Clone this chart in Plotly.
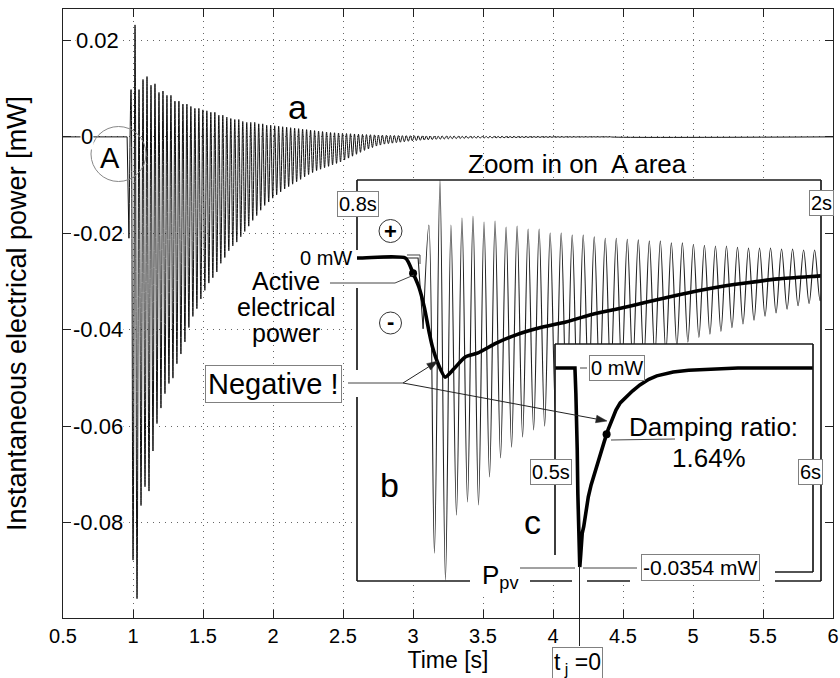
import math
import plotly.graph_objects as go

# ---------------- figure geometry (pixels) ----------------
W, H = 840, 678
ML, MR, MT, MB = 63, 7, 9, 60
PW, PH = W - ML - MR, H - MT - MB


def px(x):
    return (x - ML) / PW


def py(y):
    return (MT + PH - y) / PH


FONT = "Liberation Sans, Arial, Helvetica, sans-serif"

# ---------------- data ----------------
X_RANGE = [0.5, 6.0]
Y_RANGE = [-0.0997, 0.0265]
x_ticks = [0.5, 1.0, 1.5, 2.0, 2.5, 3.0, 3.5, 4.0, 4.5, 5.0, 5.5, 6.0]
x_tick_labels = ["0.5", "1", "1.5", "2", "2.5", "3", "3.5", "4", "4.5", "5", "5.5", "6"]
y_ticks = [0.02, 0.0, -0.02, -0.04, -0.06, -0.08]
y_tick_labels = ["0.02", "0", "-0.02", "-0.04", "-0.06", "-0.08"]

# oscillation: first peak time and period [s]
T0 = 0.986
PERIOD = 0.0285

# signal before the oscillation [s], [mW]
head_t = [0.5, 0.958, 0.971]
head_v = [0.0, 0.0, -0.021]

# successive maxima of the instantaneous power [mW]
upper_peaks = [
    0.0098, 0.0232, 0.0098, 0.0119, 0.0125, 0.0107, 0.0110, 0.0092, 0.0095, 0.0086,
    0.0086, 0.0074, 0.0074, 0.0068, 0.0068, 0.0063,
    0.0059, 0.0059, 0.0056, 0.0054, 0.0051, 0.0051, 0.0045, 0.0045, 0.0041, 0.0038,
    0.0036, 0.0036, 0.0032, 0.0030, 0.0030, 0.0030, 0.0027, 0.0027, 0.0024, 0.0024,
    0.0023, 0.0022, 0.0021, 0.0020, 0.0019, 0.0018, 0.0017, 0.0016, 0.0015, 0.0014,
    0.0013, 0.0012, 0.0011, 0.0010, 0.0009, 0.00085, 0.0008, 0.00075, 0.0007, 0.00065,
    0.0006, 0.00055, 0.0005, 0.00047, 0.00044,
    0.00041, 0.00038, 0.00035, 0.00033, 0.00031, 0.00029, 0.00027, 0.00025, 0.00024, 0.00023,
    0.00022, 0.00021, 0.0002, 0.00019, 0.00018, 0.00017, 0.00016, 0.00015, 0.00014, 0.00013,
    0.00013, 0.00012, 0.00012, 0.00012, 0.00011, 0.00011, 0.00011, 0.0001, 0.0001, 0.0001,
    0.00009, 0.00009, 0.00009, 0.00008, 0.00008, 0.00008, 0.00007, 0.00007, 0.00007, 0.00006,
    0.00006, 0.00006, 0.00005, 0.00005, 0.00005, 0.00005, 0.00004, 0.00004, 0.00004, 0.00004,
    0.00004, 0.00003, 0.00003, 0.00003, 0.00003, 0.00003, 0.00002, 0.00002, 0.00002, 0.00002,
]

# successive minima of the instantaneous power [mW]
lower_troughs = [
    -0.0877, -0.0957, -0.0764, -0.0725, -0.0734, -0.0651, -0.0594, -0.0562, -0.0532, -0.0511,
    -0.0500,
    -0.0470, -0.0450, -0.0425, -0.0395, -0.0372, -0.0356, -0.0336, -0.0318, -0.0303, -0.0292,
    -0.0280, -0.0262, -0.0250, -0.0236, -0.0226, -0.0218, -0.0207, -0.0196, -0.0185, -0.0173,
    -0.0163, -0.0152, -0.0142, -0.0135, -0.0127,
    -0.0120, -0.0114, -0.0108, -0.0103, -0.0098, -0.0093, -0.0088, -0.0083, -0.0078, -0.0074,
    -0.0070, -0.0067, -0.0064, -0.0061, -0.0058, -0.0055, -0.0052, -0.0048, -0.0044, -0.0040,
    -0.0036, -0.0032, -0.0028, -0.0025, -0.0022,
    -0.0019, -0.0017, -0.0015, -0.0014, -0.0013, -0.0012, -0.0011, -0.0010, -0.0009, -0.0008,
    -0.00075, -0.0007, -0.00065, -0.0006, -0.00055, -0.0005, -0.00047, -0.00044, -0.00041, -0.00038,
    -0.00036, -0.00034, -0.00032, -0.0003, -0.00028, -0.00026, -0.00025, -0.00024, -0.00023, -0.00022,
    -0.00021, -0.0002, -0.00019, -0.00018, -0.00017, -0.00016, -0.00015, -0.00014, -0.00013, -0.00012,
    -0.00011, -0.00011, -0.0001, -0.0001, -0.00009, -0.00009, -0.00008, -0.00008, -0.00007, -0.00007,
    -0.00006, -0.00006, -0.00005, -0.00005, -0.00005, -0.00004, -0.00004, -0.00004, -0.00003, -0.00003,
]

tail_t = [6.0]
tail_v = [0.0]

# active electrical power (mean power) [s], [mW]
power_t = [0.5, 0.8, 0.925, 0.945, 0.96, 0.974, 0.987, 0.995, 1.01, 1.028, 1.05, 1.08,
           1.113, 1.16, 1.21, 1.27, 1.34, 1.40, 1.47, 1.55, 1.63, 1.72, 1.80, 1.89, 2.0,
           2.15, 2.31, 2.5, 2.67, 2.85, 3.02, 3.35, 3.74, 4.4, 6.0]
power_v = [0.0, 0.0, 0.0, -0.0045, -0.0086, -0.0146, -0.0223, -0.0264, -0.0315, -0.0354,
           -0.0330, -0.0294, -0.0282, -0.0253, -0.0229, -0.0208, -0.0190, -0.0170, -0.0152,
           -0.0131, -0.0110, -0.0089, -0.0075, -0.0062, -0.0053, -0.0041, -0.0030, -0.0020,
           -0.0014, -0.0010, -0.0007, -0.0004, -0.0002, 0.0, 0.0]

active_dot = (0.945, -0.0045)
damping_dot = (1.60, -0.0118)

# inset ranges
B_X_RANGE = [0.8, 2.0]
B_Y_RANGE = [-0.0960, 0.0232]
C_X_RANGE = [0.5, 6.0]
C_Y_RANGE = [-0.03629, 0.00427]

# ---------------- build signal ----------------
n = min(len(upper_peaks), len(lower_troughs))
sig_t = [head_t[-1]]
sig_v = [head_v[-1]]
for k in range(n):
    sig_t += [T0 + k * PERIOD, T0 + (k + 0.5) * PERIOD]
    sig_v += [upper_peaks[k], lower_troughs[k]]
sig_t += tail_t
sig_v += tail_v

BLACK = "#111111"
fig = go.Figure()

# main chart
fig.add_trace(go.Scatter(x=head_t, y=head_v, mode="lines", line=dict(color=BLACK, width=1),
                         hoverinfo="skip", showlegend=False))
fig.add_trace(go.Scatter(x=sig_t, y=sig_v, mode="lines",
                         line=dict(color=BLACK, width=1, shape="spline", smoothing=1),
                         hoverinfo="skip", showlegend=False))

# inset b
fig.add_trace(go.Scatter(x=[B_X_RANGE[0], B_X_RANGE[1], B_X_RANGE[1], B_X_RANGE[0], B_X_RANGE[0]],
                         y=[B_Y_RANGE[0], B_Y_RANGE[0], B_Y_RANGE[1], B_Y_RANGE[1], B_Y_RANGE[0]],
                         mode="lines", fill="toself", fillcolor="white", line=dict(width=0),
                         xaxis="x2", yaxis="y2", hoverinfo="skip", showlegend=False))
fig.add_trace(go.Scatter(x=head_t, y=head_v, mode="lines", line=dict(color="#222222", width=1.1),
                         xaxis="x2", yaxis="y2", hoverinfo="skip", showlegend=False))
fig.add_trace(go.Scatter(x=sig_t, y=sig_v, mode="lines",
                         line=dict(color="#222222", width=1.1, shape="spline", smoothing=1),
                         xaxis="x2", yaxis="y2", hoverinfo="skip", showlegend=False))
fig.add_trace(go.Scatter(x=power_t, y=power_v, mode="lines",
                         line=dict(color="black", width=3.6, shape="spline", smoothing=0.6),
                         xaxis="x2", yaxis="y2", hoverinfo="skip", showlegend=False))
fig.add_trace(go.Scatter(x=[active_dot[0]], y=[active_dot[1]], mode="markers",
                         marker=dict(color="black", size=8), cliponaxis=False,
                         xaxis="x2", yaxis="y2", hoverinfo="skip", showlegend=False))

# inset c
fig.add_trace(go.Scatter(x=[C_X_RANGE[0], C_X_RANGE[1], C_X_RANGE[1], C_X_RANGE[0], C_X_RANGE[0]],
                         y=[C_Y_RANGE[0], C_Y_RANGE[0], C_Y_RANGE[1], C_Y_RANGE[1], C_Y_RANGE[0]],
                         mode="lines", fill="toself", fillcolor="white", line=dict(width=0),
                         xaxis="x3", yaxis="y3", hoverinfo="skip", showlegend=False))
fig.add_trace(go.Scatter(x=power_t, y=power_v, mode="lines",
                         line=dict(color="black", width=3.6),
                         xaxis="x3", yaxis="y3", hoverinfo="skip", showlegend=False))
fig.add_trace(go.Scatter(x=[damping_dot[0]], y=[damping_dot[1]], mode="markers",
                         marker=dict(color="black", size=8), cliponaxis=False,
                         xaxis="x3", yaxis="y3", hoverinfo="skip", showlegend=False))

# ---------------- decorations ----------------
shapes = []


def seg(x0, y0, x1, y1, w=1.0, c="#333333"):
    shapes.append(dict(type="line", xref="paper", yref="paper",
                       x0=px(x0), y0=py(y0), x1=px(x1), y1=py(y1),
                       line=dict(color=c, width=w)))


def path(points, w=1.0, c="#333333", fill=None, close=False):
    d = "M " + " L ".join(f"{px(x):.5f},{py(y):.5f}" for x, y in points)
    if close:
        d += " Z"
    s = dict(type="path", xref="paper", yref="paper", path=d, line=dict(color=c, width=w))
    if fill:
        s["fillcolor"] = fill
    shapes.append(s)


def circle(cx, cy, r, w=1.0, c="#333333"):
    shapes.append(dict(type="circle", xref="paper", yref="paper",
                       x0=px(cx - r), x1=px(cx + r), y0=py(cy + r), y1=py(cy - r),
                       line=dict(color=c, width=w)))


def arrow(tail, tip, head_len=11, head_half=3.8, c="#222222"):
    dx, dy = tip[0] - tail[0], tip[1] - tail[1]
    L = math.hypot(dx, dy)
    ux, uy = dx / L, dy / L
    bx, by = tip[0] - ux * head_len, tip[1] - uy * head_len
    seg(tail[0], tail[1], bx, by, 1, c)
    path([tip, (bx - uy * head_half, by + ux * head_half),
          (bx + uy * head_half, by - ux * head_half)], 0.5, c, fill=c, close=True)


FR = 1.7
FC = "#1a1a1a"
# inset b frame
seg(357, 180, 821, 180, FR, FC)
seg(357, 180, 357, 250, FR, FC)
seg(357, 288, 357, 370, FR, FC)
seg(357, 397, 357, 581, FR, FC)
seg(821, 180, 821, 581, FR, FC)
for a, b in [(357, 470), (530, 572), (587, 630), (775, 821)]:
    seg(a, 581, b, 581, FR, FC)
# inset c frame
seg(555, 344, 813, 344, FR, FC)
seg(555, 344, 555, 555, FR, FC)
seg(813, 344, 813, 572, FR, FC)
seg(775, 572, 813, 572, FR, FC)
# P_pv level and t_j line
seg(520, 568, 575, 568, 1, "#444444")
seg(583, 568, 637, 568, 1, "#444444")
seg(579.5, 566, 579.5, 646, 1, "#222222")
# connectors
seg(348, 383, 403, 383, 1, "#444444")
path([(330, 283), (395, 283), (414, 275)], 1, "#444444")
seg(611, 440, 675, 439, 1, "#444444")
seg(580, 368, 587, 368, 1, "#444444")
path([(407, 255), (420, 255), (420, 264)], 1, "#444444")
arrow((403, 383), (438, 361))
arrow((403, 383), (607, 421))
# circles
circle(118.5, 154, 27.5, 1, "#888888")
circle(390.5, 231, 11.5, 1, "#333333")
circle(390.5, 323, 11, 1, "#333333")

ann = []


def text(x, y, s, size, anchor="center", box=False, bg=None, pad=1, **kw):
    d = dict(xref="paper", yref="paper", x=px(x), y=py(y), text=s, showarrow=False,
             xanchor=anchor, yanchor="middle", font=dict(family=FONT, size=size, color="black"))
    if box:
        d.update(bordercolor="#808080", borderwidth=1, borderpad=pad, bgcolor="white")
    elif bg:
        d.update(bgcolor=bg, borderpad=0)
    d.update(kw)
    ann.append(d)


# y tick labels (inside the plot, white background)
y_label_left = [75, 80, 72, 72, 72, 72]
for v, lab, xl in zip(y_ticks, y_tick_labels, y_label_left):
    ann.append(dict(xref="paper", yref="y", x=px(xl), y=v, text=lab, showarrow=False,
                    xanchor="left", yanchor="middle", bgcolor="white", borderpad=0,
                    font=dict(family=FONT, size=22, color="black")))

text(297, 107, "a", 34)
text(110, 158, "A", 29)
text(389, 485, "b", 34)
text(532, 522, "c", 34)
text(577, 164, "Zoom in on\u00a0 A area", 26)
text(358, 204, "0.8s", 20, box=True)
text(821, 203, "2s", 20, box=True)
text(551, 472, "0.5s", 20, box=True)
text(810, 472, "6s", 20, box=True)
text(326, 258, "0 mW", 20)
text(286, 281, "Active", 25)
text(286, 307, "electrical", 25)
text(286, 333, "power", 25)
text(273.5, 384, "Negative !", 29, box=True, pad=2)
text(617, 368, "0 mW", 20, box=True)
text(713, 427, "Damping ratio:", 26)
text(709, 458, "1.64%", 26)
text(500, 576, "P<sub>pv</sub>", 26, bg="white")
text(700, 567, "-0.0354 mW", 21, box=True)
text(577, 663, "t<sub> j</sub> =0", 23, box=True)
text(390.5, 231, "<b>+</b>", 22)
text(390.5, 322, "<b>-</b>", 22)

grid = dict(showgrid=True, gridcolor="#666666", griddash="1px,5px", gridwidth=1)

fig.update_layout(
    width=W, height=H,
    margin=dict(l=ML, r=MR, t=MT, b=MB, autoexpand=False),
    paper_bgcolor="white", plot_bgcolor="white",
    font=dict(family=FONT, color="black"),
    showlegend=False,
    xaxis=dict(range=X_RANGE, tickvals=x_ticks, ticktext=x_tick_labels, ticks="inside",
               ticklen=8, tickcolor="#222222", showline=True, linecolor="#222222",
               linewidth=1.3, mirror="ticks", zeroline=False,
               tickfont=dict(family=FONT, size=20, color="black"),
               title=dict(text="Time [s]", font=dict(family=FONT, size=23), standoff=4),
               **grid),
    yaxis=dict(range=Y_RANGE, tickvals=y_ticks, showticklabels=False, ticks="inside",
               ticklen=8, tickcolor="#222222", showline=True, linecolor="#222222",
               linewidth=1.3, mirror="ticks", zeroline=False,
               title=dict(text="Instantaneous electrical power [mW]",
                          font=dict(family=FONT, size=27), standoff=27),
               **grid),
    xaxis2=dict(domain=[px(357), px(821)], range=B_X_RANGE, anchor="y2", visible=False),
    yaxis2=dict(domain=[py(581), py(180)], range=B_Y_RANGE, anchor="x2", visible=False),
    xaxis3=dict(domain=[px(555), px(813)], range=C_X_RANGE, anchor="y3", visible=False),
    yaxis3=dict(domain=[py(572), py(344)], range=C_Y_RANGE, anchor="x3", visible=False),
    shapes=shapes,
    annotations=ann,
)

fig.write_html("out.html")
